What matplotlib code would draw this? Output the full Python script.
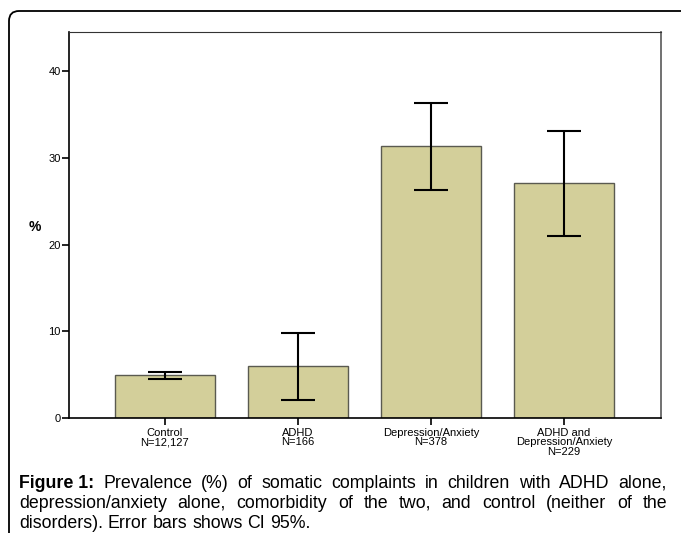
import matplotlib
matplotlib.use("Agg")
import matplotlib.pyplot as plt
from matplotlib.patches import FancyBboxPatch
from matplotlib.transforms import IdentityTransform

# data
groups = ["Control\nN=12,127", "ADHD\nN=166", "Depression/Anxiety\nN=378",
          "ADHD and\nDepression/Anxiety\nN=229"]
prevalence = [5.0, 6.0, 31.3, 27.1]
ci_low = [4.5, 2.1, 26.3, 21.0]
ci_high = [5.3, 9.8, 36.3, 33.1]
yticks = [0, 10, 20, 30, 40]

caption_lines = [
    [("Figure 1:", True), ("Prevalence", False), ("(%)", False), ("of", False),
     ("somatic", False), ("complaints", False), ("in", False), ("children", False),
     ("with", False), ("ADHD", False), ("alone,", False)],
    [(w, False) for w in "depression/anxiety alone, comorbidity of the two, and control (neither of the".split()],
    [(w, False) for w in "disorders). Error bars shows CI 95%.".split()],
]

W, H = 681, 533
plt.rcParams["font.family"] = ["Liberation Sans", "DejaVu Sans"]
fig = plt.figure(figsize=(W / 100, H / 100), dpi=100)

# axes placed in pixel terms
ax_l, ax_r, ax_t, ax_b = 69, 661, 32, 418
ax = fig.add_axes([ax_l / W, (H - ax_b) / H, (ax_r - ax_l) / W, (ax_b - ax_t) / H])

x = list(range(len(groups)))
ax.bar(x, prevalence, width=0.75, color="#d3cf9a", edgecolor="#5a5a50", linewidth=1.0, zorder=2)
yerr = [[p - lo for p, lo in zip(prevalence, ci_low)],
        [hi - p for p, hi in zip(prevalence, ci_high)]]
ax.errorbar(x, prevalence, yerr=yerr, fmt="none", ecolor="black", elinewidth=1.5,
            capsize=12, capthick=1.5, zorder=3)

ax.set_xlim(-0.72, 3.73)
ax.set_ylim(0, 44.5)
ax.set_yticks(yticks)
ax.set_xticks(x)
ax.set_xticklabels(groups, fontsize=8, linespacing=0.95)
ax.tick_params(axis="y", labelsize=8, length=5, width=1.2, pad=1)
ax.tick_params(axis="x", length=5, width=1.2, pad=2)
for s in ["left", "bottom"]:
    ax.spines[s].set_linewidth(1.2)
ax.spines["top"].set_color("#333333")
ax.spines["right"].set_color("#666666")
ax.spines["right"].set_linewidth(1.3)

fig.text(35 / W, 1 - 227 / H, "%", fontsize=10, fontweight="bold", ha="center", va="center")

# rounded frame running off the right and bottom edges
frame = FancyBboxPatch((9, -30), 720, H - 11 + 30, boxstyle="round,pad=0,rounding_size=10",
                       transform=IdentityTransform(), facecolor="none", edgecolor="black",
                       linewidth=1.3)
fig.add_artist(frame)

# justified caption
renderer = fig.canvas.get_renderer()
fs = 12.8
left, right = 19, 667
baselines = [488, 508, 528]


def word_width(word, bold):
    t = fig.text(0, 0, word, fontsize=fs, fontweight="bold" if bold else "normal")
    w = t.get_window_extent(renderer).width
    t.remove()
    return w


space = word_width("a b", False) - word_width("ab", False)
for i, (line, base) in enumerate(zip(caption_lines, baselines)):
    widths = [word_width(w, b) for w, b in line]
    if i < len(caption_lines) - 1:
        gap = (right - left - sum(widths)) / (len(line) - 1)
    else:
        gap = space
    xpos = left
    for (w, b), wd in zip(line, widths):
        fig.text(xpos / W, 1 - base / H, w, fontsize=fs,
                 fontweight="bold" if b else "normal", ha="left", va="baseline")
        xpos += wd + gap

fig.savefig("out.png", dpi=100)
